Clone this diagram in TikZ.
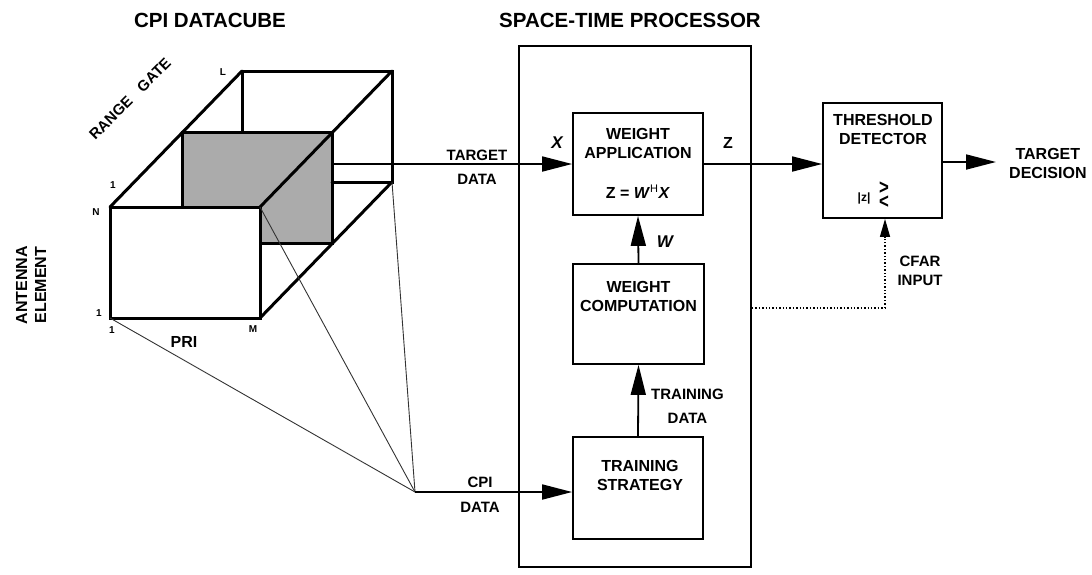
\documentclass[tikz,border=0pt]{standalone}
\usepackage{amsmath}
\usepackage{amssymb}
\usepackage{fontspec}
\setmainfont{Liberation Sans}
\usetikzlibrary{arrows.meta}
\begin{document}
\begin{tikzpicture}[x=1pt,y=-1pt,line join=miter,
  cube/.style={line width=3pt,line cap=round},
  slicefill/.style={fill=black!33},
  ray/.style={line width=0.9pt,black!80},
  box/.style={draw,line width=1.8pt,inner sep=0pt},
  arr/.style={-{Triangle[length=30pt,width=15pt]},line width=1.8pt},
  smallarr/.style={-{Triangle[length=18pt,width=10pt]},line width=1.4pt,dotted},
  txt/.style={font=\fontsize{16}{19}\selectfont\bfseries,align=center,inner sep=0pt},
  lbl/.style={font=\fontsize{15}{24}\selectfont\bfseries,align=center,inner sep=0pt},
  tiny/.style={font=\fontsize{10}{12}\selectfont\bfseries,inner sep=0pt},
  ttl/.style={font=\fontsize{20.5}{24}\selectfont\bfseries,inner sep=0pt}]
\useasboundingbox (0,0) rectangle (1092,574);

% titles
\node[ttl] (t1) at (210,20) {CPI DATACUBE};
\node[ttl] (t2) at (630,20) {SPACE-TIME PROCESSOR};

% cube coordinates
\coordinate (A) at (110,207);
\coordinate (B) at (260,207);
\coordinate (C) at (260,318);
\coordinate (D) at (110,318);
\coordinate (L) at (242,71);
\coordinate (Bp) at (392,71);
\coordinate (Cp) at (392,182);
\coordinate (Lb) at (242,132);
\coordinate (Cb) at (332,182);
\coordinate (S1) at (182,132);
\coordinate (S2) at (332,132);
\coordinate (S3) at (332,243);
\coordinate (S4) at (260,243);
\coordinate (S5) at (182,207);

\fill[slicefill] (S1)--(S2)--(S3)--(S4)--(B)--(S5)--cycle;
\draw[cube] (S5)--(S1)--(S2)--(S3)--(S4);
\draw[cube] (Lb)--(L)--(Bp)--(Cp)--(Cb);
\draw[cube] (A)--(L);
\draw[cube] (B)--(Bp);
\draw[cube] (C)--(Cp);
\draw[cube,fill=white] (A) rectangle (C);

% cube labels
\node[lbl,rotate=45] (rg) at (130,99) {RANGE\hspace{0.9em}GATE};
\node[lbl,rotate=90,font=\fontsize{16}{19}\selectfont\bfseries] (ae) at (31,285) {ANTENNA\\ELEMENT};
\node[tiny] (lL) at (223,72) {L};
\node[tiny] (l1a) at (113,185) {1};
\node[tiny] (lN) at (96,212) {N};
\node[tiny] (l1b) at (99,313) {1};
\node[tiny] (l1c) at (112,330) {1};
\node[tiny] (lM) at (253,329) {M};
\node[txt] (pri) at (184,342) {PRI};

% processor frame
\node[box,minimum width=232pt,minimum height=521pt] (stp) at (635,306.5) {};

% blocks
\node[box,minimum width=130pt,minimum height=102pt] (wa) at (638,164) {};
\node[txt] (wat) at (638,143.5) {WEIGHT\\APPLICATION};
\node[txt] (waf) at (638,192) {Z = \textit{W}\textsuperscript{\fontsize{11}{11}\selectfont\mdseries H}\textit{X}};

\node[box,minimum width=131pt,minimum height=100pt] (wc) at (638.5,314) {};
\node[txt] (wct) at (638.5,296.5) {WEIGHT\\COMPUTATION};

\node[box,minimum width=130pt,minimum height=102pt] (ts) at (638,488) {};
\node[txt] (tst) at (640,475) {TRAINING\\STRATEGY};

\node[box,minimum width=119pt,minimum height=115pt] (td) at (882.5,160.5) {};
\node[txt] (tdt) at (883,129.5) {THRESHOLD\\DETECTOR};
\node[inner sep=0pt,font=\fontsize{12}{12}\selectfont\bfseries] (tdz) at (864,198) {|z|};
\node[inner sep=0pt,align=center,font=\fontsize{21}{11}\selectfont\bfseries] (tdg) at (884,195) {\scalebox{0.8}[1]{>}\\\scalebox{0.8}[1]{<}};

% target data
\coordinate (tdsrc) at (332,164);
\draw[arr] (tdsrc) -- (wa.west);
\node[lbl] (tdl1) at (477,155) {TARGET};
\node[lbl] (tdl2) at (477,179) {DATA};
\node[txt,font=\fontsize{17}{19}\selectfont\bfseries\itshape] (xl) at (557,143) {X};

% Z to detector
\draw[arr] (wa.east) -- (td.west |- wa.east);
\node[txt] (zl) at (728,143) {Z};

% detector output
\node[txt,anchor=west] (dec) at (1009,163) {TARGET\\DECISION};
\draw[arr] (td.east |- 0,162) -- (996,162);

% W arrow
\draw[arr] (wc.north) -- (wa.south);
\node[txt,font=\fontsize{17}{19}\selectfont\bfseries\itshape] (wl) at (665,242) {W};

% training data
\draw[arr] (ts.north) -- (wc.south);
\node[lbl,anchor=west] (trl) at (651,406) {TRAINING\\DATA};

% rays to CPI data
\coordinate (V) at (415,492);
\draw[ray] (D) -- (V);
\draw[ray] (B) -- (V);
\draw[ray] (Cp) -- (V);
\draw[arr] (V) -- (V -| ts.west);
\node[lbl] (cp1) at (480,482) {CPI};
\node[lbl] (cp2) at (480,507) {DATA};

% CFAR input
\coordinate (cf) at (885,308);
\draw[line width=1.4pt,dotted] (stp.east |- cf) -- (cf);
\draw[smallarr] (cf) -- (td.south -| cf);
\node[lbl] (cfl) at (920,271) {CFAR\\[-5pt]INPUT};
\end{tikzpicture}
\end{document}
